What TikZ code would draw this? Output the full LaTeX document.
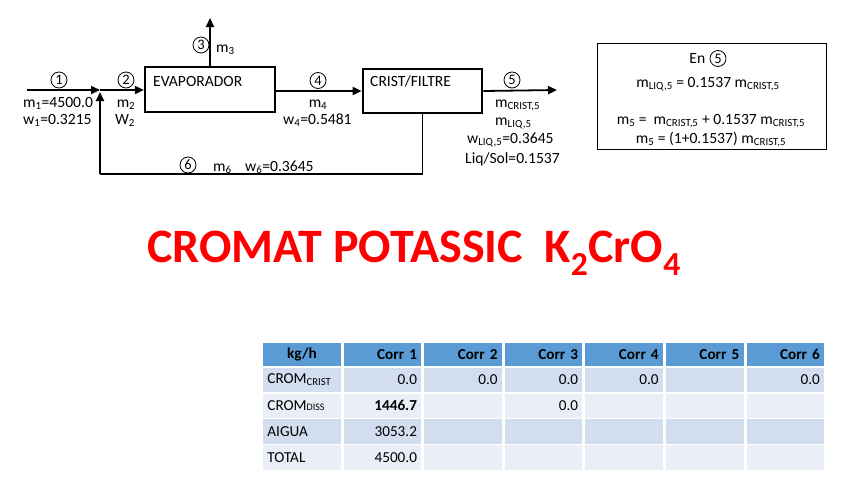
\documentclass[tikz,border=0pt]{standalone}
\usepackage{fontspec}
\setmainfont{Carlito}
\usetikzlibrary{arrows.meta}
\definecolor{hdr}{HTML}{5B9BD5}
\definecolor{rowA}{HTML}{D2DEEF}
\definecolor{rowB}{HTML}{EAEFF7}
\definecolor{titlered}{HTML}{FF0000}
\newcommand{\sbs}[1]{\textsubscript{#1}}
\newcommand{\dissc}{{\fontsize{10}{10}\selectfont DISS}}
\begin{document}
\begin{tikzpicture}[x=1pt,y=-1pt,
  lbl/.style={font=\fontsize{15.6}{17}\selectfont, inner sep=0pt},
  num/.style={circle,draw,line width=0.8pt,minimum size=16pt,inner sep=0pt,font=\fontsize{14.5}{14.5}\selectfont},
  unitbox/.style={draw,line width=2.2pt,inner sep=0pt},
  flow/.style={line width=1.8pt,-{Triangle[length=9pt,width=8pt]}},
  pipe/.style={line width=1.8pt},
  cellbase/.style={rectangle,draw=white,line width=1.5pt,text width=69pt,inner xsep=5pt,inner ysep=0pt,font=\fontsize{15.2}{17}\selectfont},
  hcell/.style={cellbase,fill=hdr,minimum height=24.5pt,align=right,font=\fontsize{15.2}{17}\selectfont\bfseries},
  acell/.style={cellbase,fill=rowA,minimum height=25.9pt},
  bcell/.style={cellbase,fill=rowB,minimum height=25.9pt}]
\useasboundingbox (0,0) rectangle (848,477);

% ---------- units ----------
\node[unitbox,minimum width=130pt,minimum height=44.5pt] (evap) at (210,89.5) {};
\node[lbl,anchor=base west] (evaptxt) at (153,86) {EVAPORADOR};
\node[unitbox,minimum width=119.5pt,minimum height=44.5pt] (crist) at (422.5,91) {};
\node[lbl,anchor=base west] (cristtxt) at (370,86.5) {CRIST/FILTRE};

% ---------- stream points ----------
\coordinate (s1) at (27,90);
\coordinate (mix) at (100,90);
\coordinate (mixb) at (100,92);
\coordinate (s3) at (210,18);
\coordinate (s5) at (557,90);
\coordinate (r6) at (100,174);

% ---------- streams ----------
\draw[flow] (s1) -- (mix);
\draw[flow] (mix) -- (mix -| evap.west);
\draw[flow] (evap.north) -- (s3);
\draw[flow] (evap.east |- crist.west) -- (crist.west);
\draw[flow] (crist.east) -- (s5);
\draw[pipe] (crist.south) |- (r6);
\draw[flow] (r6) -- (mixb);

% ---------- stream labels ----------
\node[num] (c1) at (59,80) {1};
\node[lbl,anchor=base west] (m1) at (23,107) {m\sbs{1}=4500.0};
\node[lbl,anchor=base west] (w1) at (23,124) {w\sbs{1}=0.3215};

\node[num] (c2) at (126,80) {2};
\node[lbl,anchor=base] (m2) at (126,107) {m\sbs{2}};
\node[lbl,anchor=base] (W2) at (125,124) {W\sbs{2}};

\node[num] (c3) at (201,45) {3};
\node[lbl,anchor=base west] (m3) at (216,52) {m\sbs{3}};

\node[num] (c4) at (318,80.5) {4};
\node[lbl,anchor=base] (m4) at (318,107) {m\sbs{4}};
\node[lbl,anchor=base west] (w4) at (283,124) {w\sbs{4}=0.5481};

\node[num] (c5) at (512,80) {5};
\node[lbl,anchor=base west] (mc5) at (495,107) {m\sbs{CRIST,5}};
\node[lbl,anchor=base west] (ml5) at (495,125.5) {m\sbs{LIQ,5}};
\node[lbl,anchor=base west] (wl5) at (467,143) {w\sbs{LIQ,5}=0.3645};
\node[lbl,anchor=base west] (ls5) at (465,163) {Liq/Sol=0.1537};

\node[num] (c6) at (188,165) {6};
\node[lbl,anchor=base west] (m6) at (213,171) {m\sbs{6}};
\node[lbl,anchor=base west] (w6) at (245,171) {w\sbs{6}=0.3645};

% ---------- equation box ----------
\node[draw,line width=1pt,minimum width=229pt,minimum height=106pt,inner sep=0pt] (eqbox) at (711.5,96) {};
\node[lbl,anchor=base east] (en) at (705.5,63) {En};
\node[num] (c5b) at (718,58.5) {5};
\node[lbl,anchor=base] (eq1) at (708,87) {m\sbs{LIQ,5} = 0.1537 m\sbs{CRIST,5}};
\node[lbl,anchor=base] (eq2) at (711,124) {m\sbs{5} =\ \ m\sbs{CRIST,5} + 0.1537 m\sbs{CRIST,5}};
\node[lbl,anchor=base] (eq3) at (711,143) {m\sbs{5} = (1+0.1537) m\sbs{CRIST,5}};

% ---------- title ----------
\node[anchor=base,inner sep=0pt,text=titlered,font=\fontsize{48}{52}\selectfont\bfseries] (title) at (414,262)
  {CROMAT POTASSIC\ \ K\textsubscript{2}CrO\textsubscript{4}};

% ---------- table ----------
\node[hcell,align=center] (h0) at (301.9,354.5) {kg/h};
\foreach \t [count=\i] in {Corr 1,Corr 2,Corr 3,Corr 4,Corr 5,Corr 6}
  \node[hcell] (h\i) at ({301.9+80.57*\i},354.5) {\t};

\node[acell,align=left] (r1c0) at (301.9,379.8) {CROM\sbs{CRIST}};
\foreach \v [count=\i] in {0.0,0.0,0.0,0.0,{},0.0}
  \node[acell,align=right] (r1c\i) at ({301.9+80.57*\i},379.8) {\v};

\node[bcell,align=left] (r2c0) at (301.9,405.7) {CROM\dissc};
\foreach \v [count=\i] in {\textbf{1446.7},{},0.0,{},{},{}}
  \node[bcell,align=right] (r2c\i) at ({301.9+80.57*\i},405.7) {\v};

\node[acell,align=left] (r3c0) at (301.9,431.6) {AIGUA};
\foreach \v [count=\i] in {3053.2,{},{},{},{},{}}
  \node[acell,align=right] (r3c\i) at ({301.9+80.57*\i},431.6) {\v};

\node[bcell,align=left] (r4c0) at (301.9,457.5) {TOTAL};
\foreach \v [count=\i] in {4500.0,{},{},{},{},{}}
  \node[bcell,align=right] (r4c\i) at ({301.9+80.57*\i},457.5) {\v};
\end{tikzpicture}
\end{document}
